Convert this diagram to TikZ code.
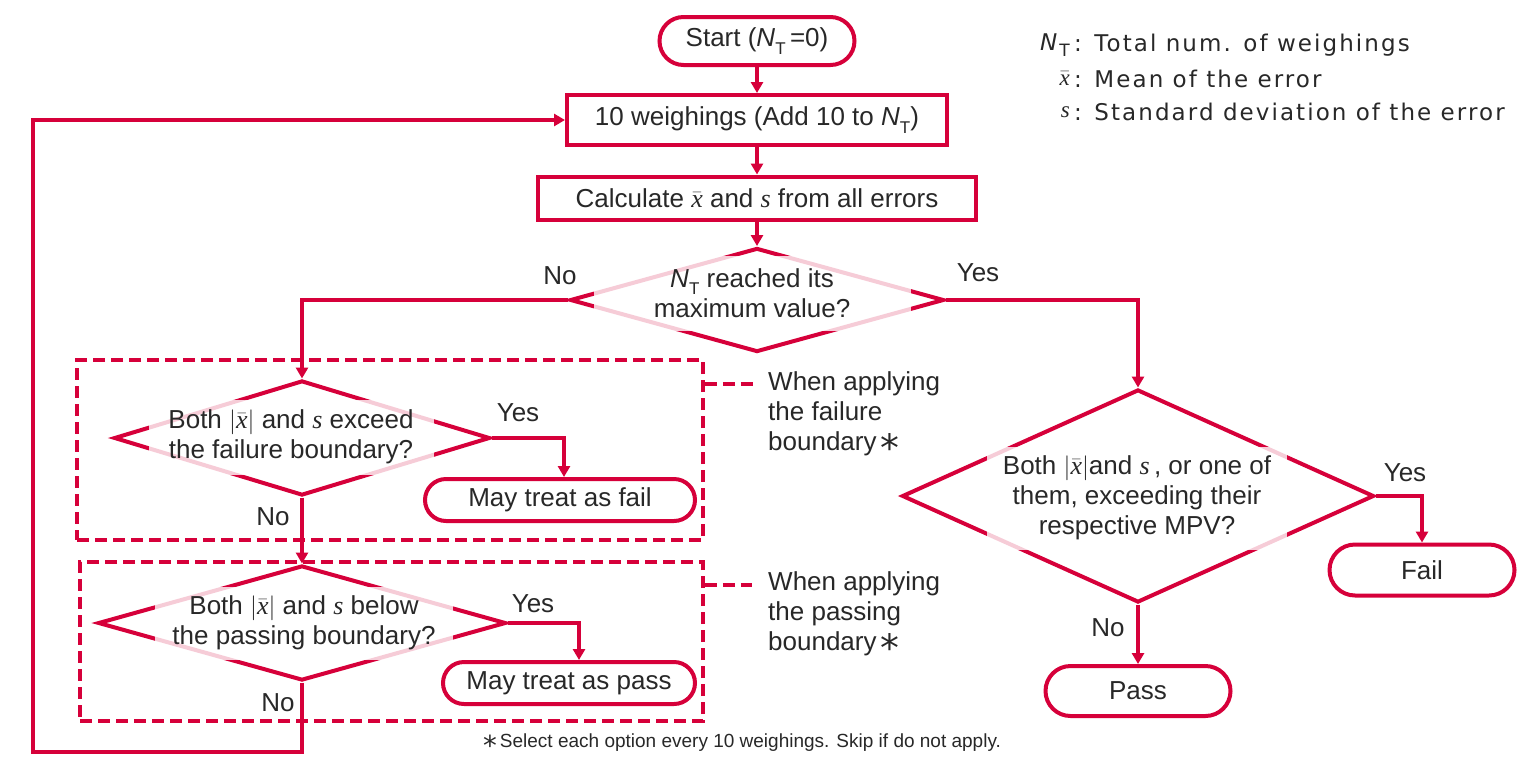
\documentclass[tikz,border=0pt]{standalone}
\usepackage{fontspec}
\setmainfont{Liberation Sans}
\newfontfamily\legendfont{DejaVu Sans}[LetterSpace=9]
\newfontfamily\symbfont{DejaVu Sans}
\newfontfamily\serifit{Liberation Serif}[UprightFont=*-Italic]
\usetikzlibrary{shapes.geometric,shapes.misc,arrows.meta}
\definecolor{jred}{RGB}{214,0,58}
\definecolor{jtext}{RGB}{40,40,40}
\newcommand\NTsym{\textit{N}\raisebox{-0.28em}{\fontsize{17}{17}\selectfont T}}
\newcommand\fnast{\raisebox{-0.42em}{\scalebox{1.45}{\symbfont *}}}
\newcommand\xb{\ensuremath{\bar{\mbox{\serifit x}}}}
\newcommand\sv{{\serifit s}}
\newcommand\mainsize{\fontsize{26}{30}\selectfont}
\begin{document}
\begin{tikzpicture}[x=1pt,y=-1pt,
  every node/.style={font=\mainsize, text=jtext},
  term/.style={rounded rectangle, draw=jred, line width=4pt, inner sep=0pt},
  proc/.style={rectangle, draw=jred, line width=4pt, inner sep=0pt},
  dia/.style={diamond, draw=jred, line width=4pt, inner sep=0pt},
  dtext/.style={fill=white, fill opacity=0.8, text opacity=1, align=center, inner sep=0pt},
  dbox/.style={draw=jred, line width=3.5pt, dash pattern=on 12pt off 6pt, inner sep=0pt},
  dline/.style={draw=jred, line width=3.5pt, dash pattern=on 12pt off 6pt},
  conn/.style={draw=jred, line width=4pt, -{Triangle[length=11pt,width=12pt]}},
  lbl/.style={inner sep=0pt},
  side/.style={anchor=west, align=left, inner sep=0pt},
  legend/.style={font=\legendfont\fontsize{23}{26}\selectfont, inner sep=0pt}
]
\fill[white] (0,0) rectangle (1531,772);
\useasboundingbox (0,0) rectangle (1531,772);

% dashed groups
\node[dbox, minimum width=626pt, minimum height=180pt] (g1) at (390,450) {};
\node[dbox, minimum width=623pt, minimum height=159pt] (g2) at (391.5,641.5) {};

% process nodes
\node[term, minimum width=195pt, minimum height=48pt] (start) at (757,41) {Start (\NTsym\,=0)};
\node[proc, minimum width=380pt, minimum height=50pt] (w10) at (757,120) {10 weighings (Add 10 to \NTsym)};
\node[proc, minimum width=438pt, minimum height=43pt] (calc) at (757,198) {Calculate \xb\ and \sv\ from all errors};

% diamonds
\node[dia, minimum width=374pt, minimum height=104pt] (d1) at (757,300) {};
\node[dtext, minimum width=317pt, minimum height=75pt] (t1) at (752,293) {\NTsym\ reached its\\maximum value?};

\node[dia, minimum width=376pt, minimum height=115pt] (d2) at (302,438) {};
\node[dtext, minimum width=285pt, minimum height=75pt] (t2) at (291,437) {Both $|$\xb$|$ and \sv\ exceed\\the failure boundary?};

\node[dia, minimum width=408pt, minimum height=115pt] (d3) at (302,623) {};
\node[dtext, minimum width=298pt, minimum height=73pt] (t3) at (304,623) {Both $|$\xb$|$ and \sv\ below\\the passing boundary?};

\node[dia, minimum width=472pt, minimum height=213pt] (d4) at (1138,496) {};
\node[dtext, minimum width=300pt, minimum height=103pt] (t4) at (1137,498) {Both $|$\xb$|$and \sv\,, or one of\\them, exceeding their\\respective MPV?};

% terminals
\node[term, minimum width=270pt, minimum height=42pt] (mfail) at (560,500) {May treat as fail};
\node[term, minimum width=252pt, minimum height=42pt] (mpass) at (569,683) {May treat as pass};
\node[term, minimum width=185pt, minimum height=51pt] (fail) at (1422,570) {Fail};
\node[term, minimum width=185pt, minimum height=50pt] (pass) at (1138,691) {Pass};

% connectors
\draw[conn] (start) -- (w10);
\draw[conn] (w10) -- (calc);
\draw[conn] (calc) -- (d1);
\draw[conn] (d1.west) -| (d2.north);
\draw[conn] (d1.east) -| (d4.north);
\draw[conn] (d2.east) -| ([xshift=4pt]mfail.north);
\draw[conn] (d2.south) -- (d3.north);
\draw[conn] (d3.east) -| ([xshift=10pt]mpass.north);
\coordinate (lp1) at (302,752);
\coordinate (lp2) at (33,752);
\draw[conn] (d3.south) -- (lp1) -- (lp2) |- (w10.west);
\draw[conn] (d4.east) -| (fail.north);
\draw[conn] (d4.south) -- (pass.north);

% branch labels
\node[lbl] (n1) at (560,276) {No};
\node[lbl] (y1) at (978,273) {Yes};
\node[lbl] (y2) at (518,413) {Yes};
\node[lbl] (n2) at (273,517) {No};
\node[lbl] (y3) at (533,604) {Yes};
\node[lbl] (n3) at (278,703) {No};
\node[lbl] (y4) at (1405,473) {Yes};
\node[lbl] (n4) at (1108,628) {No};

% side notes
\node[side] (s1) at (768,417) {When applying\\the failure\\boundary\,\fnast};
\node[side] (s2) at (768,617) {When applying\\the passing\\boundary\,\fnast};
\coordinate (c1) at (757,384);
\coordinate (c2) at (752,585);
\draw[dline] (g1.east |- c1) -- (c1);
\draw[dline] (g2.east |- c2) -- (c2);

% legend
\node[legend, anchor=east] (ls1) at (1070,45) {\NTsym};
\node[legend, anchor=west] (lt1) at (1074,45) {: Total num. of weighings};
\node[legend, anchor=east] (ls2) at (1070,79) {\xb};
\node[legend, anchor=west] (lt2) at (1074,79) {: Mean of the error};
\node[legend, anchor=east] (ls3) at (1070,112) {\sv};
\node[legend, anchor=west] (lt3) at (1074,112) {: Standard deviation of the error};

% footnote
\node[inner sep=0pt, font=\fontsize{19}{22}\selectfont] (foot) at (742,745) {\fnast\,Select each option every 10 weighings. Skip if do not apply.};
\end{tikzpicture}
\end{document}
